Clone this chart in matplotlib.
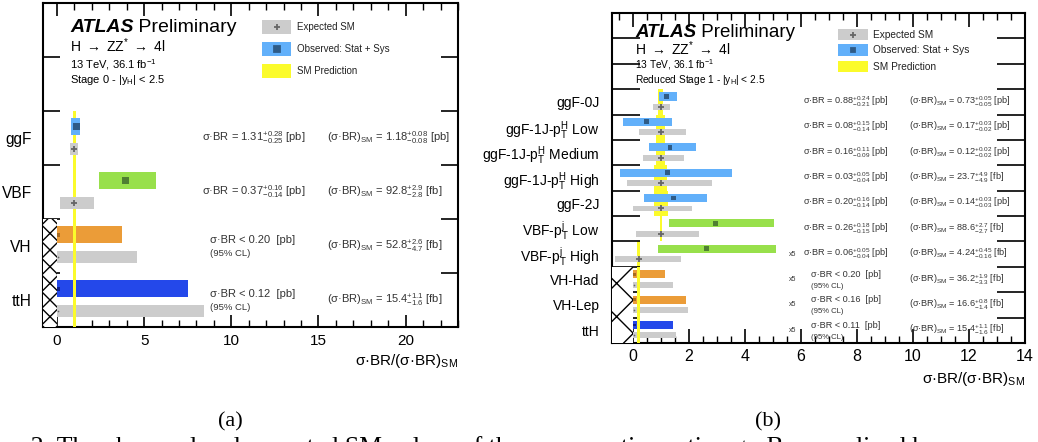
import numpy as np
import matplotlib.pyplot as plt
from matplotlib.patches import Rectangle
from matplotlib.ticker import MultipleLocator, FixedLocator

plt.rcParams['font.family'] = ['Liberation Sans', 'DejaVu Sans']
plt.rcParams['mathtext.fontset'] = 'custom'
plt.rcParams['mathtext.rm'] = 'Liberation Sans'
plt.rcParams['mathtext.it'] = 'Liberation Sans:italic'
plt.rcParams['mathtext.bf'] = 'Liberation Sans:bold'
plt.rcParams['hatch.linewidth'] = 1.0

GRAY = '#cccccc'
YELLOW = '#fbfb2b'
BLUE = '#62b0fa'
GREEN = '#98e04b'
ORANGE = '#eb9c38'
DBLUE = '#2448ea'
TXT = '#333333'

# ---------------- panel (a): Stage 0 ----------------
cats_a = ['ggF', 'VBF', 'VH', 'ttH']
obs_a = [1.11, 3.95, 0.07, 0.07]
obs_lo_a = [0.82, 2.42, 0.0, 0.0]
obs_hi_a = [1.34, 5.67, 3.76, 7.54]
exp_a = [1.0, 1.0, 0.05, 0.05]
exp_lo_a = [0.76, 0.15, 0.0, 0.0]
exp_hi_a = [1.20, 2.14, 4.58, 8.44]
sm_lo_a = [0.91, 0.92, 0.91, 0.91]
sm_hi_a = [1.08, 1.07, 1.08, 1.09]
limit_a = [False, False, True, True]
cols_a = [BLUE, GREEN, ORANGE, DBLUE]
mcols_a = ['#2e5b87', '#4f7f32', '#a66a20', '#10208a']
meas_a = ['σ·BR = $1.31^{+0.28}_{-0.25}$ [pb]', 'σ·BR = $0.37^{+0.16}_{-0.14}$ [pb]',
          'σ·BR < 0.20  [pb]', 'σ·BR < 0.12  [pb]']
smtxt_a = ['(σ·BR)$_{\\rm SM}$ = $1.18^{+0.08}_{-0.08}$ [pb]',
           '(σ·BR)$_{\\rm SM}$ = $92.8^{+2.9}_{-2.8}$ [fb]',
           '(σ·BR)$_{\\rm SM}$ = $52.8^{+2.6}_{-4.7}$ [fb]',
           '(σ·BR)$_{\\rm SM}$ = $15.4^{+1.1}_{-1.6}$ [fb]']

# ---------------- panel (b): Reduced Stage 1 ----------------
cats_b = ['ggF-0J', 'ggF-1J-p$_{\\rm T}^{\\rm H}$ Low', 'ggF-1J-p$_{\\rm T}^{\\rm H}$ Medium',
          'ggF-1J-p$_{\\rm T}^{\\rm H}$ High', 'ggF-2J', 'VBF-p$_{\\rm T}^{\\rm j}$ Low',
          'VBF-p$_{\\rm T}^{\\rm j}$ High', 'VH-Had', 'VH-Lep', 'ttH']
obs_b = [1.20, 0.49, 1.32, 1.23, 1.44, 2.96, 2.61, 0.06, 0.06, 0.06]
obs_lo_b = [0.93, -0.35, 0.57, -0.46, 0.39, 1.30, 0.89, 0.0, 0.0, 0.0]
obs_hi_b = [1.56, 1.38, 2.25, 3.55, 2.63, 5.04, 5.10, 1.14, 1.89, 1.44]
exp_b = [1.0, 1.0, 1.0, 1.0, 1.0, 1.0, 0.2, 0.04, 0.04, 0.04]
exp_lo_b = [0.73, 0.23, 0.36, -0.20, 0.01, 0.10, -0.64, 0.0, 0.0, 0.0]
exp_hi_b = [1.32, 1.89, 1.81, 2.82, 2.10, 2.36, 1.71, 1.43, 1.96, 1.55]
sm_lo_b = [0.88, 0.82, 0.82, 0.76, 0.76, 0.96, 0.16, 0.16, 0.16, 0.16]
sm_hi_b = [1.08, 1.15, 1.16, 1.22, 1.24, 1.05, 0.24, 0.24, 0.24, 0.24]
limit_b = [False] * 7 + [True] * 3
cols_b = [BLUE] * 5 + [GREEN] * 2 + [ORANGE] * 2 + [DBLUE]
mcols_b = ['#2e5b87'] * 5 + ['#4f7f32'] * 2 + ['#a66a20'] * 2 + ['#10208a']
meas_b = ['σ·BR = $0.88^{+0.24}_{-0.21}$ [pb]', 'σ·BR = $0.08^{+0.15}_{-0.14}$ [pb]',
          'σ·BR = $0.16^{+0.11}_{-0.09}$ [pb]', 'σ·BR = $0.03^{+0.05}_{-0.04}$ [pb]',
          'σ·BR = $0.20^{+0.16}_{-0.14}$ [pb]', 'σ·BR = $0.26^{+0.18}_{-0.15}$ [pb]',
          'σ·BR = $0.06^{+0.05}_{-0.04}$ [pb]', 'σ·BR < 0.20  [pb]',
          'σ·BR < 0.16  [pb]', 'σ·BR < 0.11  [pb]']
smtxt_b = ['(σ·BR)$_{\\rm SM}$ = $0.73^{+0.05}_{-0.05}$ [pb]',
           '(σ·BR)$_{\\rm SM}$ = $0.17^{+0.03}_{-0.02}$ [pb]',
           '(σ·BR)$_{\\rm SM}$ = $0.12^{+0.02}_{-0.02}$ [pb]',
           '(σ·BR)$_{\\rm SM}$ = $23.7^{+4.9}_{-4.9}$ [fb]',
           '(σ·BR)$_{\\rm SM}$ = $0.14^{+0.03}_{-0.03}$ [pb]',
           '(σ·BR)$_{\\rm SM}$ = $88.6^{+2.7}_{-2.7}$ [fb]',
           '(σ·BR)$_{\\rm SM}$ = $4.24^{+0.45}_{-0.16}$ [fb]',
           '(σ·BR)$_{\\rm SM}$ = $36.2^{+1.9}_{-3.3}$ [fb]',
           '(σ·BR)$_{\\rm SM}$ = $16.6^{+0.8}_{-1.4}$ [fb]',
           '(σ·BR)$_{\\rm SM}$ = $15.4^{+1.1}_{-1.6}$ [fb]']
scale_b = [''] * 6 + ['x5'] * 4


def draw_panel(ax, cats, obs, obs_lo, obs_hi, exp, exp_lo, exp_hi, sm_lo, sm_hi,
               limit, cols, mcols, ms_obs, ms_exp, hatch, n_head):
    n = len(cats)
    y_top = np.arange(n, 0, -1).astype(float)
    y_mid = y_top - 0.5
    y_obs = y_top - 0.29
    y_exp = y_top - 0.70
    obs, obs_lo, obs_hi = map(np.array, (obs, obs_lo, obs_hi))
    exp, exp_lo, exp_hi = map(np.array, (exp, exp_lo, exp_hi))
    sm_lo, sm_hi = np.array(sm_lo), np.array(sm_hi)
    lim = np.array(limit)
    cols = np.array(cols)
    mcols = np.array(mcols)

    # SM prediction band: behind measured rows, on top for limit rows
    ax.barh(y_mid[~lim], (sm_hi - sm_lo)[~lim], left=sm_lo[~lim], height=1.0,
            color=YELLOW, zorder=1)
    ax.barh(y_mid[lim], (sm_hi - sm_lo)[lim], left=sm_lo[lim], height=1.0,
            color=YELLOW, zorder=5)

    ax.barh(y_exp, exp_hi - exp_lo, left=exp_lo, height=0.23, color=GRAY, zorder=2)
    ax.barh(y_obs, obs_hi - obs_lo, left=obs_lo, height=0.32, color=cols, zorder=2)

    ax.scatter(obs[~lim], y_obs[~lim], marker='s', s=ms_obs ** 2, c=mcols[~lim],
               linewidths=0, zorder=3)
    ax.scatter(obs[lim], y_obs[lim], marker='s', s=(ms_obs * 0.6) ** 2, c=mcols[lim],
               linewidths=0, zorder=3)
    ax.scatter(exp[~lim], y_exp[~lim], marker='+', s=ms_exp ** 2, c='#666666',
               linewidths=1.3, zorder=3)
    ax.scatter(exp[lim], y_exp[lim], marker='o', s=1.5, c='#666666',
               linewidths=0, zorder=3)

    # crosshatched region below zero for the limit rows
    x0 = ax.get_xlim()[0]
    ax.add_patch(Rectangle((x0, 0), -x0, lim.sum(), facecolor='white',
                           edgecolor='black', linewidth=0, hatch=hatch, zorder=4))

    ax.set_ylim(0, n + n_head)
    ax.yaxis.set_major_locator(FixedLocator(np.arange(1, n + n_head)))
    ax.yaxis.set_major_formatter(plt.NullFormatter())
    ax.yaxis.set_minor_locator(FixedLocator(y_mid))
    ax.set_yticklabels(cats, minor=True)
    for s in ax.spines.values():
        s.set_linewidth(1.5)
    return y_mid


def legend(ax, x0, x1, xt, ys, h, fs, ms_obs, ms_exp):
    entries = [('Expected SM', GRAY, '+', '#666666', ms_exp),
               ('Observed: Stat + Sys', BLUE, 's', '#2e5b87', ms_obs),
               ('SM Prediction', YELLOW, None, None, 0)]
    for (lab, fc, m, mc, ms), y in zip(entries, ys):
        ax.add_patch(Rectangle((x0, y - h / 2), x1 - x0, h, transform=ax.transAxes,
                               facecolor=fc, edgecolor='none'))
        if m:
            ax.plot((x0 + x1) / 2, y, marker=m, color=mc, ms=ms, mew=1.3,
                    transform=ax.transAxes, linestyle='none')
        ax.text(xt, y, lab, transform=ax.transAxes, va='center', fontsize=fs, color='#222222')


def atlas_label(ax, x, ys, fs_atlas, fs_decay, fs_small, stage):
    t = ax.text(x, ys[0], 'ATLAS', transform=ax.transAxes, fontsize=fs_atlas,
                fontweight='bold', style='italic', va='baseline')
    ax.annotate(' Preliminary', xy=(1, 0), xycoords=t, va='bottom', fontsize=fs_atlas)
    ax.text(x, ys[1], 'H $\\rightarrow$ ZZ$^{*}$ $\\rightarrow$ 4l', transform=ax.transAxes,
            fontsize=fs_decay, va='baseline')
    ax.text(x, ys[2], '13 TeV, 36.1 fb$^{-1}$', transform=ax.transAxes,
            fontsize=fs_small, va='baseline')
    ax.text(x, ys[3], stage + ' - |y$_{\\rm H}$| < 2.5', transform=ax.transAxes,
            fontsize=fs_small, va='baseline')


fig = plt.figure(figsize=(10.38, 4.42), dpi=100)

# ---- (a)
ax1 = fig.add_axes([0.0414, 0.2602, 0.3998, 0.7330])
ax1.set_xlim(-0.8, 23)
ym = draw_panel(ax1, cats_a, obs_a, obs_lo_a, obs_hi_a, exp_a, exp_lo_a, exp_hi_a,
                sm_lo_a, sm_hi_a, limit_a, cols_a, mcols_a, 5.0, 5.0, 'xx', 2)
ax1.xaxis.set_major_locator(MultipleLocator(5))
ax1.xaxis.set_minor_locator(MultipleLocator(1))
ax1.tick_params(axis='x', which='both', direction='in', top=True, labelsize=11, pad=5)
ax1.tick_params(axis='x', which='major', length=9, width=1.2)
ax1.tick_params(axis='x', which='minor', length=5, width=1.0)
ax1.tick_params(axis='y', which='major', direction='in', right=True, length=12, width=1.2)
ax1.tick_params(axis='y', which='minor', length=0, labelsize=11.2, pad=8)
for y, m, s, lim in zip(ym, meas_a, smtxt_a, limit_a):
    if lim:
        ax1.text(8.77, y + 0.12, m, fontsize=8, color=TXT, va='center')
        ax1.text(8.77, y - 0.14, '(95% CL)', fontsize=6.8, color=TXT, va='center')
    else:
        ax1.text(8.3, y, m, fontsize=8, color=TXT, va='center')
    ax1.text(15.5, y, s, fontsize=8, color=TXT, va='center')
ax1.text(1.0, -0.117, 'σ·BR/(σ·BR)$_{\\rm SM}$', transform=ax1.transAxes, ha='right',
         va='baseline', fontsize=11)
legend(ax1, 0.528, 0.598, 0.612, [0.926, 0.858, 0.790], 0.046, 7, 5.0, 5.0)
atlas_label(ax1, 0.065, [0.910, 0.849, 0.799, 0.753], 14, 10, 8, 'Stage 0')

# ---- (b)
ax2 = fig.add_axes([0.5896, 0.2240, 0.3979, 0.7466])
ax2.set_xlim(-0.75, 14)
ym = draw_panel(ax2, cats_b, obs_b, obs_lo_b, obs_hi_b, exp_b, exp_lo_b, exp_hi_b,
                sm_lo_b, sm_hi_b, limit_b, cols_b, mcols_b, 3.5, 4.0, 'x', 3)
ax2.xaxis.set_major_locator(MultipleLocator(2))
ax2.xaxis.set_minor_locator(MultipleLocator(0.5))
ax2.tick_params(axis='x', which='both', direction='in', top=True, labelsize=11.5, pad=4)
ax2.tick_params(axis='x', which='major', length=10, width=1.2)
ax2.tick_params(axis='x', which='minor', length=5, width=1.0)
ax2.tick_params(axis='y', which='major', direction='in', right=True, length=20, width=1.2)
ax2.tick_params(axis='y', which='minor', length=0, labelsize=10, pad=9)
for y, m, s, sc, lim in zip(ym, meas_b, smtxt_b, scale_b, limit_b):
    if lim:
        ax2.text(6.36, y + 0.2, m, fontsize=6.6, color=TXT, va='center')
        ax2.text(6.36, y - 0.27, '(95% CL)', fontsize=5.6, color=TXT, va='center')
    else:
        ax2.text(6.07, y, m, fontsize=6.6, color=TXT, va='center')
    ax2.text(9.86, y, s, fontsize=6.6, color=TXT, va='center')
    if sc:
        ax2.text(5.57, y, sc, fontsize=5, color=TXT, va='center')
ax2.text(1.0, -0.121, 'σ·BR/(σ·BR)$_{\\rm SM}$', transform=ax2.transAxes, ha='right',
         va='baseline', fontsize=11)
legend(ax2, 0.547, 0.620, 0.632, [0.934, 0.888, 0.837], 0.034, 7.3, 3.5, 4.0)
atlas_label(ax2, 0.056, [0.927, 0.874, 0.833, 0.788], 13.5, 10, 7.3, 'Reduced Stage 1')

# sub-figure captions
fig.text(230 / 1038, 0.045, '(a)', ha='center', va='center', fontsize=16,
         family='Liberation Serif')
fig.text(768 / 1038, 0.045, '(b)', ha='center', va='center', fontsize=16,
         family='Liberation Serif')
fig.text(-0.0415, -0.0265, 'Figure 2: The observed and expected SM values of the '
         'cross-section ratios σ · B normalized by', ha='left', va='baseline',
         fontsize=18.5, family='Liberation Serif')

fig.savefig('out.png', dpi=100)
